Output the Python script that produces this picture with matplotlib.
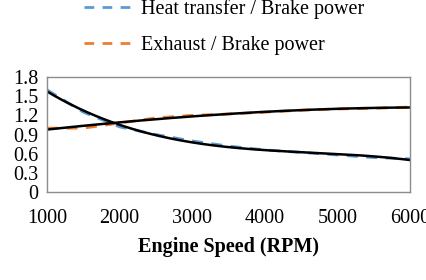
import numpy as np
import matplotlib
matplotlib.use("Agg")
import matplotlib.pyplot as plt
from matplotlib.lines import Line2D

plt.rcParams['font.family'] = ['Liberation Serif', 'DejaVu Serif']

rpm = [1000, 1500, 2000, 2500, 3000, 3500, 4000, 4500, 5000, 5500, 6000]
heat_ratio = [1.60, 1.25, 1.02, 0.90, 0.80, 0.72, 0.66, 0.62, 0.58, 0.54, 0.52]
exhaust_ratio = [1.00, 1.00, 1.08, 1.16, 1.20, 1.22, 1.25, 1.28, 1.30, 1.31, 1.33]
labels = ["Heat transfer / Brake power", "Exhaust / Brake power"]
colors = ["#5B9BD5", "#ED7D31"]

fig = plt.figure(figsize=(4.27, 2.80), dpi=100)
ax = fig.add_axes([0.110, 0.314, 0.850, 0.411])

x = np.array(rpm, dtype=float)
xs = np.linspace(1000, 6000, 200)
for y, c in zip([heat_ratio, exhaust_ratio], colors):
    ax.plot(x, y, color=c, lw=2, dashes=(4, 3))
    p = np.polyfit(x, y, 3)
    ax.plot(xs, np.polyval(p, xs), color='black', lw=1.8)

ax.set_xlim(1000, 6000)
ax.set_ylim(0, 1.8)
ax.set_yticks([0, 0.3, 0.6, 0.9, 1.2, 1.5, 1.8])
ax.set_yticklabels(["0", "0.3", "0.6", "0.9", "1.2", "1.5", "1.8"])
ax.set_xticks([1000, 2000, 3000, 4000, 5000, 6000])
ax.tick_params(length=0, labelsize=14.5)
ax.tick_params(axis='x', pad=12)
ax.tick_params(axis='y', pad=6)
for s in ax.spines.values():
    s.set_color('#8c8c8c')
    s.set_linewidth(1)
ax.set_xlabel("Engine Speed (RPM)", fontsize=14.5, fontweight='bold', labelpad=7)

handles = [Line2D([0], [0], color=c, lw=2, dashes=(3.5, 3)) for c in colors]
fig.legend(handles, labels, loc='upper left', bbox_to_anchor=(0.155, 1.068),
           frameon=False, fontsize=14.5, handlelength=2.5, handletextpad=0.3,
           labelspacing=0.85)

fig.savefig("out.png", dpi=100)
